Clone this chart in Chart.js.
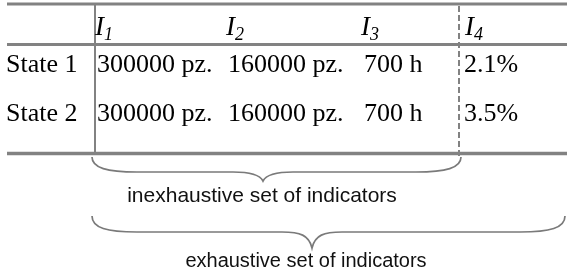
<!DOCTYPE html>
<html>
<head>
<meta charset="utf-8">
<script src="https://cdn.jsdelivr.net/npm/chart.js@4"></script>
<style>
  html, body { margin: 0; padding: 0; background: #fff; }
  canvas { display: block; }
</style>
</head>
<body>
<canvas id="indicatorTable" width="567" height="278"></canvas>
<script>
// table content
const rowLabels = ['State 1', 'State 2'];
const colSubscripts = ['1', '2', '3', '4'];
const state1Values = ['300000 pz.', '160000 pz.', '700 h', '2.1%'];
const state2Values = ['300000 pz.', '160000 pz.', '700 h', '3.5%'];
const braceLabels = ['inexhaustive set of indicators', 'exhaustive set of indicators'];

// layout (in page units, mapped through the chart scales)
const colX = [95, 226, 361, 465];
const valueX = [97, 228, 364, 464];
const rowBaseY = [72, 121];
const headBaseY = 35;
const ruleY = [4, 44.5, 153.5];
const solidX = 95;
const dashX = 459;
const braces = [
    { left: 92, right: 461, top: 157, flat: 172, tipX: 263, tipY: 181, textX: 262, textY: 202, size: 21 },
    { left: 92, right: 565, top: 216, flat: 232, tipX: 312, tipY: 248, textX: 306, textY: 267, size: 20 }
];

const grey = '#828282';

function seg(x1, y1, x2, y2, width, dash) {
    return {
        data: [{ x: x1, y: y1 }, { x: x2, y: y2 }],
        showLine: true,
        borderColor: grey,
        borderWidth: width,
        borderDash: dash || [],
        pointRadius: 0,
        borderCapStyle: 'butt'
    };
}

const datasets = [
    seg(7, ruleY[0], 567, ruleY[0], 3),
    seg(7, ruleY[1], 567, ruleY[1], 3),
    seg(7, ruleY[2], 567, ruleY[2], 3.5),
    seg(solidX, ruleY[0], solidX, ruleY[2], 2),
    seg(dashX, 6, dashX, 159, 2, [6, 3])
];

const tablePlugin = {
    id: 'tableText',
    afterDatasetsDraw(chart) {
        const ctx = chart.ctx;
        const xs = chart.scales.x;
        const ys = chart.scales.y;
        const px = v => xs.getPixelForValue(v);
        const py = v => ys.getPixelForValue(v);
        ctx.save();
        ctx.fillStyle = '#000';
        ctx.textBaseline = 'alphabetic';
        ctx.textAlign = 'left';

        // header: I with subscripts
        colSubscripts.forEach((s, i) => {
            ctx.font = 'italic 27px "Liberation Serif"';
            ctx.fillText('I', px(colX[i]), py(headBaseY));
            const w = ctx.measureText('I').width;
            ctx.font = 'italic 18px "Liberation Serif"';
            ctx.fillText(s, px(colX[i]) + w, py(headBaseY + 5));
        });

        // rows
        ctx.font = '26px "Liberation Serif"';
        [state1Values, state2Values].forEach((vals, r) => {
            ctx.fillText(rowLabels[r], px(6), py(rowBaseY[r]));
            vals.forEach((v, i) => ctx.fillText(v, px(valueX[i]), py(rowBaseY[r])));
        });

        // braces
        ctx.strokeStyle = '#7a7a7a';
        ctx.lineWidth = 1.7;
        braces.forEach((b, i) => {
            const L = px(b.left), R = px(b.right), T = py(b.top), F = py(b.flat);
            const tx = px(b.tipX), ty = py(b.tipY);
            ctx.beginPath();
            ctx.moveTo(L, T);
            ctx.bezierCurveTo(L, F - 4, L + 15, F, L + 45, F);
            ctx.lineTo(tx - 30, F);
            ctx.bezierCurveTo(tx - 12, F, tx - 3, F + 3, tx, ty);
            ctx.bezierCurveTo(tx + 3, F + 3, tx + 12, F, tx + 30, F);
            ctx.lineTo(R - 45, F);
            ctx.bezierCurveTo(R - 15, F, R, F - 4, R, T);
            ctx.stroke();

            ctx.font = b.size + 'px "Liberation Sans"';
            ctx.textAlign = 'center';
            ctx.fillStyle = '#111';
            ctx.fillText(braceLabels[i], px(b.textX), py(b.textY));
            ctx.textAlign = 'left';
        });
        ctx.restore();
    }
};

new Chart(document.getElementById('indicatorTable').getContext('2d'), {
    type: 'scatter',
    data: { datasets: datasets },
    options: {
        responsive: false,
        animation: false,
        layout: { padding: 0 },
        plugins: { legend: { display: false }, tooltip: { enabled: false } },
        scales: {
            x: { type: 'linear', min: 0, max: 567, display: false },
            y: { type: 'linear', min: 0, max: 278, reverse: true, display: false }
        }
    },
    plugins: [tablePlugin]
});
</script>
</body>
</html>
